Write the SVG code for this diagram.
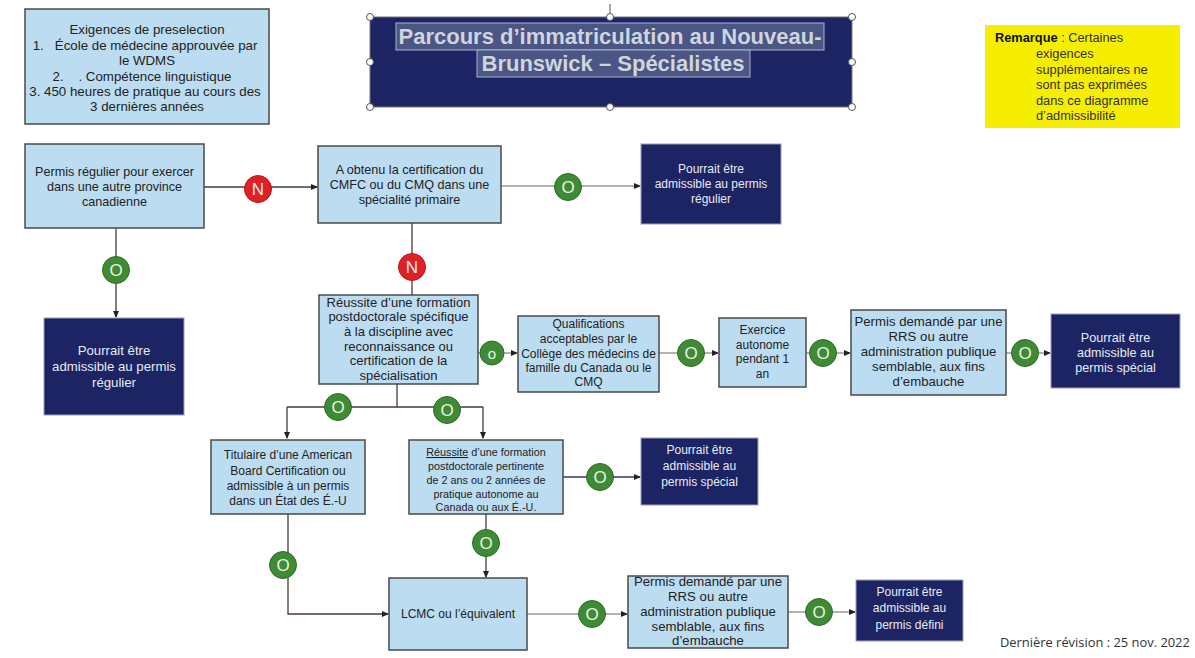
<svg xmlns="http://www.w3.org/2000/svg" width="1195" height="658" viewBox="0 0 1195 658">
<style>
.lb{fill:#bcdcf1;stroke:#4a4a4a;stroke-width:1.5}
.nv{fill:#1c2463;stroke:#9aa0b8;stroke-width:1}
.t{font-family:"Liberation Sans",Arial,sans-serif;font-size:12px;fill:#222;text-anchor:middle}
.tw{font-family:"Liberation Sans",Arial,sans-serif;font-size:12px;fill:#e8eaf2;text-anchor:middle}
.c{stroke:#4a3a35;stroke-width:1.3;fill:none}
.cg{stroke:#9a9a9a;stroke-width:1.3;fill:none}
.go{fill:#3f8a35;stroke:#2f6b28;stroke-width:1}
.rn{fill:#e01f26;stroke:#b5161b;stroke-width:1}
.lt{font-family:"Liberation Sans",Arial,sans-serif;font-size:17px;fill:#e9f0e4;text-anchor:middle}
.h{fill:#fff;stroke:#555;stroke-width:1}
.rm{font-family:"Liberation Sans",Arial,sans-serif;font-size:12.8px;fill:#333}
</style>
<defs>
<marker id="ar" markerWidth="8" markerHeight="8" refX="6" refY="4" orient="auto" markerUnits="userSpaceOnUse">
<path d="M0,1 L7,4 L0,7 z" fill="#222"/>
</marker>
</defs>
<rect width="1195" height="658" fill="#ffffff"/>

<g id="prescreening">
<rect x="25" y="9" width="244" height="115" class="lb"/>
<text class="t" style="font-size:13.3px" x="147" y="34">Exigences de preselection</text>
<text class="t" style="font-size:13.3px" x="145" y="50">1.&#160;&#160;&#160;École de médecine approuvée par</text>
<text class="t" style="font-size:13.3px" x="147" y="65">le WDMS</text>
<text class="t" style="font-size:13.3px" x="142" y="81">2.&#160;&#160;&#160;&#160;. Compétence linguistique</text>
<text class="t" style="font-size:13.3px" x="145" y="96">3. 450 heures de pratique au cours des</text>
<text class="t" style="font-size:13.3px" x="147" y="111">3 dernières années</text>
</g>

<g id="title">
<line x1="610" y1="4" x2="610" y2="17" stroke="#555" stroke-width="1"/>
<rect x="370" y="17" width="482" height="90" fill="#1c2463" stroke="#777" stroke-width="1"/>
<rect x="396" y="23" width="428" height="27" fill="#4b5684" stroke="#a9b4d0" stroke-width="1"/>
<rect x="477" y="50" width="273" height="27" fill="#4b5684" stroke="#a9b4d0" stroke-width="1"/>
<text font-family="Liberation Sans,Arial,sans-serif" font-size="22" font-weight="bold" fill="#cfd4dd" text-anchor="middle" x="610" y="44">Parcours d’immatriculation au Nouveau-</text>
<text font-family="Liberation Sans,Arial,sans-serif" font-size="22" font-weight="bold" fill="#cfd4dd" text-anchor="middle" x="613" y="71">Brunswick – Spécialistes</text>
<circle cx="370" cy="17" r="3.5" class="h"/>
<circle cx="610" cy="17" r="3.5" class="h"/>
<circle cx="852" cy="17" r="3.5" class="h"/>
<circle cx="370" cy="62" r="3.5" class="h"/>
<circle cx="852" cy="62" r="3.5" class="h"/>
<circle cx="370" cy="107" r="3.5" class="h"/>
<circle cx="610" cy="107" r="3.5" class="h"/>
<circle cx="852" cy="107" r="3.5" class="h"/>
</g>

<g id="remark">
<rect x="985" y="25" width="195" height="103" fill="#f6ee00"/>
<text class="rm" x="995" y="42"><tspan font-weight="bold" fill="#111">Remarque</tspan> : Certaines</text>
<text class="rm" x="1036" y="58">exigences</text>
<text class="rm" x="1036" y="74">supplémentaires ne</text>
<text class="rm" x="1036" y="89">sont pas exprimées</text>
<text class="rm" x="1036" y="105">dans ce diagramme</text>
<text class="rm" x="1036" y="120">d’admissibilité</text>
</g>

<g id="connectors">
<line x1="204" y1="187" x2="317" y2="187" class="c" marker-end="url(#ar)"/>
<line x1="501" y1="186" x2="640" y2="186" class="cg" marker-end="url(#ar)"/>
<line x1="116" y1="228" x2="116" y2="317" class="c" marker-end="url(#ar)"/>
<line x1="412" y1="223" x2="412" y2="295" class="c"/>
<line x1="478" y1="353" x2="517" y2="353" class="cg" marker-end="url(#ar)"/>
<line x1="659" y1="353" x2="718" y2="353" class="cg" marker-end="url(#ar)"/>
<line x1="806" y1="353" x2="850" y2="353" class="cg" marker-end="url(#ar)"/>
<line x1="1006" y1="353" x2="1050" y2="353" class="cg" marker-end="url(#ar)"/>
<line x1="397" y1="384" x2="397" y2="407" class="c"/>
<line x1="287" y1="407" x2="483" y2="407" class="c"/>
<line x1="287" y1="407" x2="287" y2="438" class="c" marker-end="url(#ar)"/>
<line x1="483" y1="407" x2="483" y2="438" class="c" marker-end="url(#ar)"/>
<line x1="563" y1="477" x2="640" y2="477" stroke="#2a3570" stroke-width="1.3" marker-end="url(#ar)"/>
<polyline points="288,514 288,614 388,614" class="c" marker-end="url(#ar)"/>
<line x1="486" y1="514" x2="486" y2="577" class="c" marker-end="url(#ar)"/>
<line x1="527" y1="614" x2="627" y2="614" class="cg" marker-end="url(#ar)"/>
<line x1="788" y1="612" x2="855" y2="612" class="cg" marker-end="url(#ar)"/>
<circle cx="258" cy="189" r="13.5" class="rn"/><text class="lt" x="258" y="195">N</text>
<circle cx="568" cy="187" r="13.5" class="go"/><text class="lt" x="568" y="193">O</text>
<circle cx="116" cy="270" r="13.5" class="go"/><text class="lt" x="116" y="276">O</text>
<circle cx="412" cy="267" r="13.5" class="rn"/><text class="lt" x="412" y="273">N</text>
<circle cx="492" cy="353" r="12" class="go"/><text class="lt" style="font-size:15px" x="492" y="358.5">o</text>
<circle cx="691" cy="353" r="13.5" class="go"/><text class="lt" x="691" y="359">O</text>
<circle cx="823" cy="353" r="13.5" class="go"/><text class="lt" x="823" y="359">O</text>
<circle cx="1025" cy="353" r="13.5" class="go"/><text class="lt" x="1025" y="359">O</text>
<circle cx="338" cy="407" r="13.5" class="go"/><text class="lt" x="338" y="413">O</text>
<circle cx="447" cy="410" r="13.5" class="go"/><text class="lt" x="447" y="416">O</text>
<circle cx="600" cy="477" r="13.5" class="go"/><text class="lt" x="600" y="483">O</text>
<circle cx="283" cy="565" r="13.5" class="go"/><text class="lt" x="283" y="571">O</text>
<circle cx="486" cy="543" r="13.5" class="go"/><text class="lt" x="486" y="549">O</text>
<circle cx="592" cy="614" r="13.5" class="go"/><text class="lt" x="592" y="620">O</text>
<circle cx="819" cy="612" r="13.5" class="go"/><text class="lt" x="819" y="618">O</text>
</g>

<g id="boxA">
<rect x="25" y="144" width="179" height="84" class="lb"/>
<text class="t" style="font-size:12.6px" x="114.5" y="176">Permis régulier pour exercer</text>
<text class="t" style="font-size:12.6px" x="114.5" y="191">dans une autre province</text>
<text class="t" style="font-size:12.6px" x="114.5" y="206">canadienne</text>
</g>
<g id="boxB">
<rect x="318" y="146" width="183" height="77" class="lb"/>
<text class="t" style="font-size:12.6px" x="409.5" y="174">A obtenu la certification du</text>
<text class="t" style="font-size:12.6px" x="409.5" y="189">CMFC ou du CMQ dans une</text>
<text class="t" style="font-size:12.6px" x="409.5" y="204">spécialité primaire</text>
</g>
<g id="boxC">
<rect x="641" y="144" width="140" height="80" class="nv"/>
<text class="tw" x="711" y="173">Pourrait être</text>
<text class="tw" x="711" y="188">admissible au permis</text>
<text class="tw" x="711" y="203">régulier</text>
</g>
<g id="boxD">
<rect x="44" y="318" width="140" height="97" class="nv"/>
<text class="tw" style="font-size:13.2px" x="114" y="355">Pourrait être</text>
<text class="tw" style="font-size:13.2px" x="114" y="371">admissible au permis</text>
<text class="tw" style="font-size:13.2px" x="114" y="387">régulier</text>
</g>
<g id="boxE">
<rect x="319" y="295" width="159" height="89" class="lb"/>
<text class="t" style="font-size:13px" x="398.5" y="307">Réussite d’une formation</text>
<text class="t" style="font-size:13px" x="398.5" y="321">postdoctorale spécifique</text>
<text class="t" style="font-size:13px" x="398.5" y="336">à la discipline avec</text>
<text class="t" style="font-size:13px" x="398.5" y="351">reconnaissance ou</text>
<text class="t" style="font-size:13px" x="398.5" y="365">certification de la</text>
<text class="t" style="font-size:13px" x="398.5" y="380">spécialisation</text>
</g>
<g id="boxF">
<rect x="518" y="316" width="141" height="76" class="lb"/>
<text class="t" x="588.5" y="328">Qualifications</text>
<text class="t" x="588.5" y="343">acceptables par le</text>
<text class="t" x="588.5" y="358">Collège des médecins de</text>
<text class="t" x="588.5" y="372">famille du Canada ou le</text>
<text class="t" x="588.5" y="386">CMQ</text>
</g>
<g id="boxG">
<rect x="719" y="318" width="87" height="69" class="lb"/>
<text class="t" x="762.5" y="334">Exercice</text>
<text class="t" x="762.5" y="349">autonome</text>
<text class="t" x="762.5" y="363">pendant 1</text>
<text class="t" x="762.5" y="378">an</text>
</g>
<g id="boxH">
<rect x="851" y="310" width="155" height="85" class="lb"/>
<text class="t" style="font-size:13.2px" x="928.5" y="326">Permis demandé par une</text>
<text class="t" style="font-size:13.2px" x="928.5" y="341">RRS ou autre</text>
<text class="t" style="font-size:13.2px" x="928.5" y="356">administration publique</text>
<text class="t" style="font-size:13.2px" x="928.5" y="371">semblable, aux fins</text>
<text class="t" style="font-size:13.2px" x="928.5" y="386">d’embauche</text>
</g>
<g id="boxI">
<rect x="1051" y="314" width="129" height="74" class="nv"/>
<text class="tw" style="font-size:12.6px" x="1115.5" y="342">Pourrait être</text>
<text class="tw" style="font-size:12.6px" x="1115.5" y="357">admissible au</text>
<text class="tw" style="font-size:12.6px" x="1115.5" y="372">permis spécial</text>
</g>
<g id="boxJ">
<rect x="211" y="440" width="154" height="74" class="lb"/>
<text class="t" x="288" y="459">Titulaire d’une American</text>
<text class="t" x="288" y="475">Board Certification ou</text>
<text class="t" x="288" y="490">admissible à un permis</text>
<text class="t" x="288" y="505">dans un État des É.-U</text>
</g>
<g id="boxK">
<rect x="409" y="440" width="154" height="74" class="lb"/>
<text class="t" style="font-size:10.8px" x="486" y="456"><tspan text-decoration="underline">Réussite</tspan> d’une formation</text>
<text class="t" style="font-size:10.8px" x="486" y="470">postdoctorale pertinente</text>
<text class="t" style="font-size:10.8px" x="486" y="484">de 2 ans ou 2 années de</text>
<text class="t" style="font-size:10.8px" x="486" y="498">pratique autonome au</text>
<text class="t" style="font-size:10.8px" x="486" y="511">Canada ou aux É.-U.</text>
</g>
<g id="boxL">
<rect x="641" y="438" width="117" height="67" class="nv"/>
<text class="tw" x="699.5" y="454">Pourrait être</text>
<text class="tw" x="699.5" y="470">admissible au</text>
<text class="tw" x="699.5" y="486">permis spécial</text>
</g>
<g id="boxM">
<rect x="389" y="578" width="138" height="72" class="lb"/>
<text class="t" x="458" y="618">LCMC ou l’équivalent</text>
</g>
<g id="boxN">
<rect x="628" y="576" width="160" height="72" class="lb"/>
<text class="t" style="font-size:13.2px" x="708" y="586">Permis demandé par une</text>
<text class="t" style="font-size:13.2px" x="708" y="601">RRS ou autre</text>
<text class="t" style="font-size:13.2px" x="708" y="616">administration publique</text>
<text class="t" style="font-size:13.2px" x="708" y="631">semblable, aux fins</text>
<text class="t" style="font-size:13.2px" x="708" y="645">d’embauche</text>
</g>
<g id="boxO">
<rect x="856" y="580" width="107" height="61" class="nv"/>
<text class="tw" x="909.5" y="596">Pourrait être</text>
<text class="tw" x="909.5" y="612">admissible au</text>
<text class="tw" x="909.5" y="629">permis défini</text>
</g>

<text font-family="Open Sans,Noto Sans,sans-serif" font-size="12.9" fill="#333" x="1000" y="647">Dernière révision : 25 nov. 2022</text>
</svg>
